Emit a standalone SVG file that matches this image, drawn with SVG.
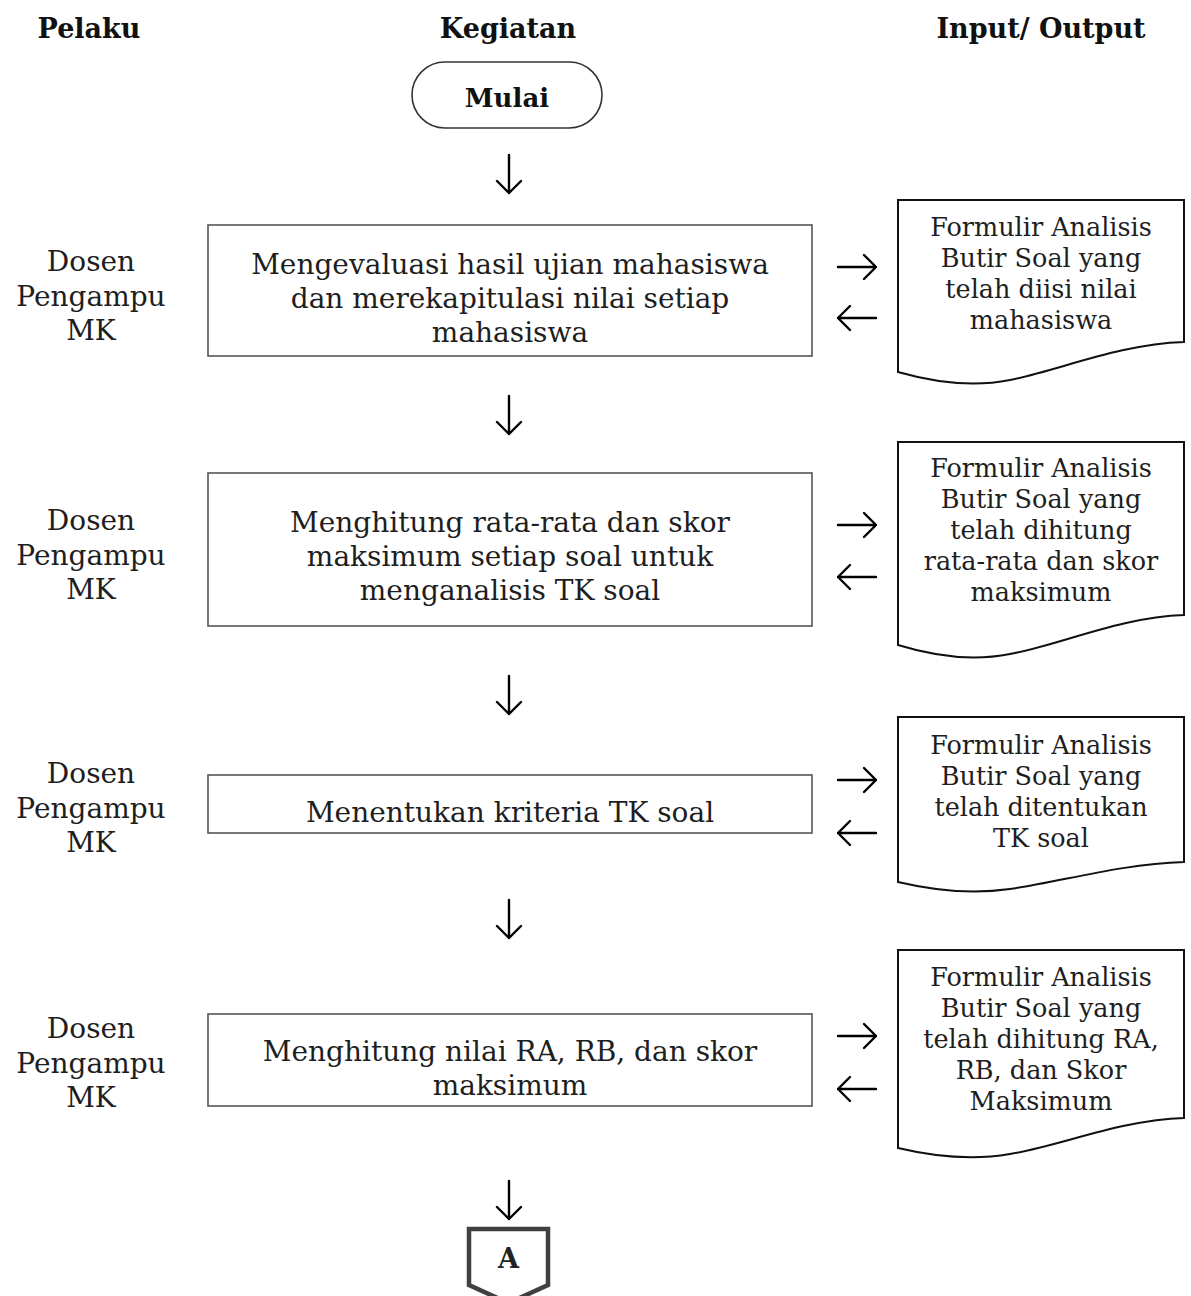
<svg xmlns="http://www.w3.org/2000/svg" width="1191" height="1296" viewBox="0 0 1191 1296">
<style>
text{font-family:"DejaVu Serif","Liberation Serif",serif;fill:#1e1e1e;text-anchor:middle}
.h{font-weight:bold;font-size:27px;fill:#111}
.b{font-size:28px}
.d{font-size:25.5px}
.box{fill:#fff;stroke:#555;stroke-width:1.6}
.doc{fill:#fff;stroke:#111;stroke-width:2}
.arr{fill:none;stroke:#000;stroke-width:2.4;stroke-linecap:round;stroke-linejoin:round}
</style>
<rect width="1191" height="1296" fill="#fff"/>
<g id="headers">
<text class="h" x="89" y="38">Pelaku</text>
<text class="h" x="508" y="38">Kegiatan</text>
<text class="h" x="1041" y="38">Input/ Output</text>
</g>
<g id="start">
<rect x="412" y="62" width="190" height="66" rx="33" fill="#fff" stroke="#333" stroke-width="1.6"/>
<text class="h" x="507" y="107" style="font-size:26px">Mulai</text>
</g>
<g id="actor1"><text class="b" x="91" y="271">Dosen</text><text class="b" x="91" y="306">Pengampu</text><text class="b" x="91" y="340">MK</text></g>
<g id="actor2"><text class="b" x="91" y="530">Dosen</text><text class="b" x="91" y="565">Pengampu</text><text class="b" x="91" y="599">MK</text></g>
<g id="actor3"><text class="b" x="91" y="783">Dosen</text><text class="b" x="91" y="818">Pengampu</text><text class="b" x="91" y="852">MK</text></g>
<g id="actor4"><text class="b" x="91" y="1038">Dosen</text><text class="b" x="91" y="1073">Pengampu</text><text class="b" x="91" y="1107">MK</text></g>
<g id="step1">
<rect class="box" x="208" y="225" width="604" height="131"/>
<text class="b" x="510" y="274">Mengevaluasi hasil ujian mahasiswa</text>
<text class="b" x="510" y="308">dan merekapitulasi nilai setiap</text>
<text class="b" x="510" y="342">mahasiswa</text>
</g>
<g id="step2">
<rect class="box" x="208" y="473" width="604" height="153"/>
<text class="b" x="510" y="532">Menghitung rata-rata dan skor</text>
<text class="b" x="510" y="566">maksimum setiap soal untuk</text>
<text class="b" x="510" y="600">menganalisis TK soal</text>
</g>
<g id="step3">
<rect class="box" x="208" y="775" width="604" height="58"/>
<text class="b" x="510" y="822">Menentukan kriteria TK soal</text>
</g>
<g id="step4">
<rect class="box" x="208" y="1014" width="604" height="92"/>
<text class="b" x="510" y="1061">Menghitung nilai RA, RB, dan skor</text>
<text class="b" x="510" y="1095">maksimum</text>
</g>
<g id="doc1">
<path class="doc" d="M898,200 H1184 V342 C1120,344 1060,370 1010,380 C975,387 940,384 898,372 Z"/>
<text class="d" x="1041" y="236">Formulir Analisis</text>
<text class="d" x="1041" y="267">Butir Soal yang</text>
<text class="d" x="1041" y="298">telah diisi nilai</text>
<text class="d" x="1041" y="329">mahasiswa</text>
</g>
<g id="doc2">
<path class="doc" d="M898,442 H1184 V615 C1120,617 1060,645 1010,654 C975,661 940,658 898,645 Z"/>
<text class="d" x="1041" y="477">Formulir Analisis</text>
<text class="d" x="1041" y="508">Butir Soal yang</text>
<text class="d" x="1041" y="539">telah dihitung</text>
<text class="d" x="1041" y="570">rata-rata dan skor</text>
<text class="d" x="1041" y="601">maksimum</text>
</g>
<g id="doc3">
<path class="doc" d="M898,717 H1184 V862 C1120,864 1060,882 1010,889 C975,894 940,892 898,882 Z"/>
<text class="d" x="1041" y="754">Formulir Analisis</text>
<text class="d" x="1041" y="785">Butir Soal yang</text>
<text class="d" x="1041" y="816">telah ditentukan</text>
<text class="d" x="1041" y="847">TK soal</text>
</g>
<g id="doc4">
<path class="doc" d="M898,950 H1184 V1118 C1120,1120 1060,1146 1010,1154 C975,1160 940,1158 898,1148 Z"/>
<text class="d" x="1041" y="986">Formulir Analisis</text>
<text class="d" x="1041" y="1017">Butir Soal yang</text>
<text class="d" x="1041" y="1048">telah dihitung RA,</text>
<text class="d" x="1041" y="1079">RB, dan Skor</text>
<text class="d" x="1041" y="1110">Maksimum</text>
</g>
<g id="connectorA">
<path d="M469,1229 H548 V1285 L508.5,1303 L469,1285 Z" fill="#fff" stroke="#404040" stroke-width="4.5" stroke-linejoin="miter"/>
<text x="508.5" y="1268" style="font-weight:bold;font-size:27px;fill:#222">A</text>
</g>
<g id="connectors" class="arr">
<path d="M509,155 V193 M497,181 L509,193 L521,181"/>
<path d="M509,396 V434 M497,422 L509,434 L521,422"/>
<path d="M509,676 V714 M497,702 L509,714 L521,702"/>
<path d="M509,900 V938 M497,926 L509,938 L521,926"/>
<path d="M509,1181 V1219 M497,1207 L509,1219 L521,1207"/>
<path d="M838,267 H876 M864,255 L876,267 L864,279"/>
<path d="M876,318 H838 M850,306 L838,318 L850,330"/>
<path d="M838,525 H876 M864,513 L876,525 L864,537"/>
<path d="M876,577 H838 M850,565 L838,577 L850,589"/>
<path d="M838,780 H876 M864,768 L876,780 L864,792"/>
<path d="M876,833 H838 M850,821 L838,833 L850,845"/>
<path d="M838,1036 H876 M864,1024 L876,1036 L864,1048"/>
<path d="M876,1089 H838 M850,1077 L838,1089 L850,1101"/>
</g>
</svg>
